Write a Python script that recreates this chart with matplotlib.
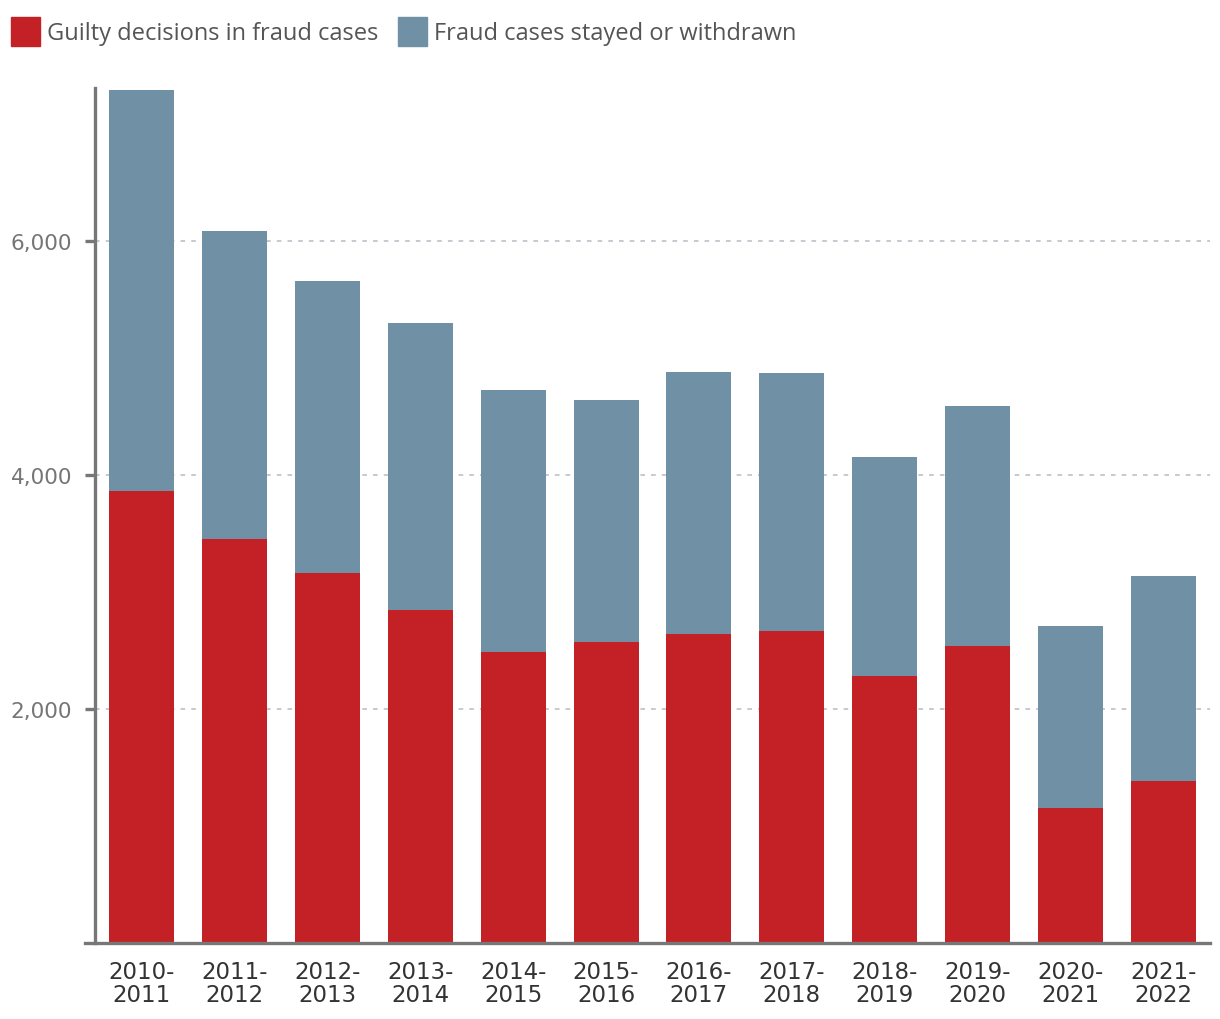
import matplotlib
matplotlib.use("Agg")
import matplotlib.pyplot as plt
from matplotlib.patches import Patch
import numpy as np

seasons = ["2010-\n2011", "2011-\n2012", "2012-\n2013", "2013-\n2014",
           "2014-\n2015", "2015-\n2016", "2016-\n2017", "2017-\n2018",
           "2018-\n2019", "2019-\n2020", "2020-\n2021", "2021-\n2022"]
guilty = [3863, 3453, 3162, 2846, 2487, 2573, 2641, 2667, 2282, 2538, 1154, 1385]
totals = [7290, 6085, 5658, 5299, 4726, 4641, 4880, 4872, 4154, 4590, 2709, 3137]
stayed = [t - g for t, g in zip(totals, guilty)]

y_ticks = [2000, 4000, 6000]

RED = "#c42127"
BLUE = "#7090a5"
AXIS = "#777777"

plt.rcParams["font.family"] = ["Open Sans", "DejaVu Sans"]

fig = plt.figure(figsize=(12.2, 10.2), dpi=100)
ax = fig.add_axes([95 / 1220, 76 / 1020, 1115 / 1220, 855 / 1020])

x = np.arange(len(seasons))
ax.bar(x, guilty, width=0.7, color=RED, zorder=2)
ax.bar(x, stayed, width=0.7, bottom=guilty, color=BLUE, zorder=2)

ax.set_xlim(-0.5, len(seasons) - 0.5)
ax.set_ylim(0, 7310)

ax.set_yticks(y_ticks)
ax.set_yticklabels([f"{v:,}" for v in y_ticks], family="DejaVu Sans")
ax.set_xticks(x)
ax.set_xticklabels(seasons, linespacing=1.0, family="DejaVu Sans")

ax.grid(axis="y", color="#b4bcc4", linestyle=(0, (3, 4)), linewidth=1.1, zorder=1)

for s in ["top", "right", "bottom"]:
    ax.spines[s].set_visible(False)
ax.spines["left"].set_color(AXIS)
ax.spines["left"].set_linewidth(2.4)
ax.axhline(0, xmin=-10 / 1115, xmax=1, color=AXIS, linewidth=2.4,
           clip_on=False, zorder=3)

ax.tick_params(axis="y", length=7.5, width=2.4, color=AXIS, pad=9,
               labelsize=15.5, labelcolor="#757575")
ax.tick_params(axis="x", length=0, pad=12, labelsize=16.5, labelcolor="#333333")

handles = [Patch(color=RED, label="Guilty decisions in fraud cases"),
           Patch(color=BLUE, label="Fraud cases stayed or withdrawn")]
fig.legend(handles=handles, loc="upper left", bbox_to_anchor=(-0.008, 1.003),
           ncol=2, frameon=False, fontsize=17, labelcolor="#555555",
           handlelength=1.2, handleheight=1.5, handletextpad=0.3,
           columnspacing=0.85, borderaxespad=0.5)

fig.savefig("out.png", dpi=100)
